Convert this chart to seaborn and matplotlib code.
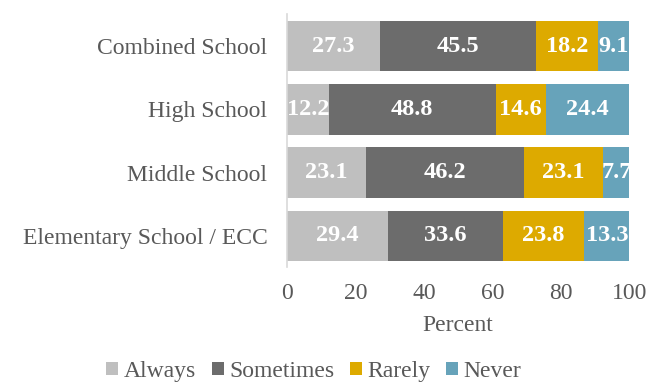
import matplotlib
matplotlib.use("Agg")
import matplotlib.pyplot as plt
import seaborn as sns
import pandas as pd
import numpy as np

schools = ["Combined School", "High School", "Middle School", "Elementary School / ECC"]
responses = ["Always", "Sometimes", "Rarely", "Never"]
always = [27.3, 12.2, 23.1, 29.4]
sometimes = [45.5, 48.8, 46.2, 33.6]
rarely = [18.2, 14.6, 23.1, 23.8]
never = [9.1, 24.4, 7.7, 13.3]
colors = ["#BFBFBF", "#6C6C6C", "#DDAA00", "#67A3BA"]
xticks = [0, 20, 40, 60, 80, 100]

sns.set_theme(style="white")
plt.rcParams["font.family"] = ["Liberation Serif", "DejaVu Serif"]

fig = plt.figure(figsize=(6.61, 3.83), dpi=100)
ax = fig.add_axes([0.434, 0.3016, 0.518, 0.6606])

series = [always, sometimes, rarely, never]
left = np.zeros(len(schools))
for name, vals, col in zip(responses, series, colors):
    df = pd.DataFrame({"school": schools, "pct": vals})
    sns.barplot(data=df, x="pct", y="school", color=col, saturation=1,
                width=0.8, left=left, ax=ax, label=name, linewidth=0)
    for i, v in enumerate(vals):
        ax.text(left[i] + v / 2, i, f"{v:.1f}", ha="center", va="center",
                color="white", fontsize=17.5, fontweight="bold")
    left = left + np.array(vals)

ax.set_xlim(0, 100)
ax.set_ylim(3.5, -0.5)
ax.set_xticks(xticks)
ax.set_xticklabels([str(t) for t in xticks])
ax.tick_params(axis="both", length=0, labelsize=17, colors="#595959")
ax.tick_params(axis="x", pad=11)
ax.tick_params(axis="y", pad=14)
ax.set_xlabel("Percent", fontsize=17, color="#595959", labelpad=8)
ax.set_ylabel("")
for s in ["top", "right", "bottom"]:
    ax.spines[s].set_visible(False)
ax.spines["left"].set_color("#D9D9D9")
ax.spines["left"].set_linewidth(1.2)

handles, labels = ax.get_legend_handles_labels()
if ax.legend_:
    ax.legend_.remove()
fig.legend(handles, labels, loc="center", bbox_to_anchor=(0.475, 0.03), ncol=4,
           frameon=False, fontsize=17, handlelength=0.5, handleheight=0.5,
           handletextpad=0.25, columnspacing=0.65, labelcolor="#595959")

fig.savefig("out.png", dpi=100)
